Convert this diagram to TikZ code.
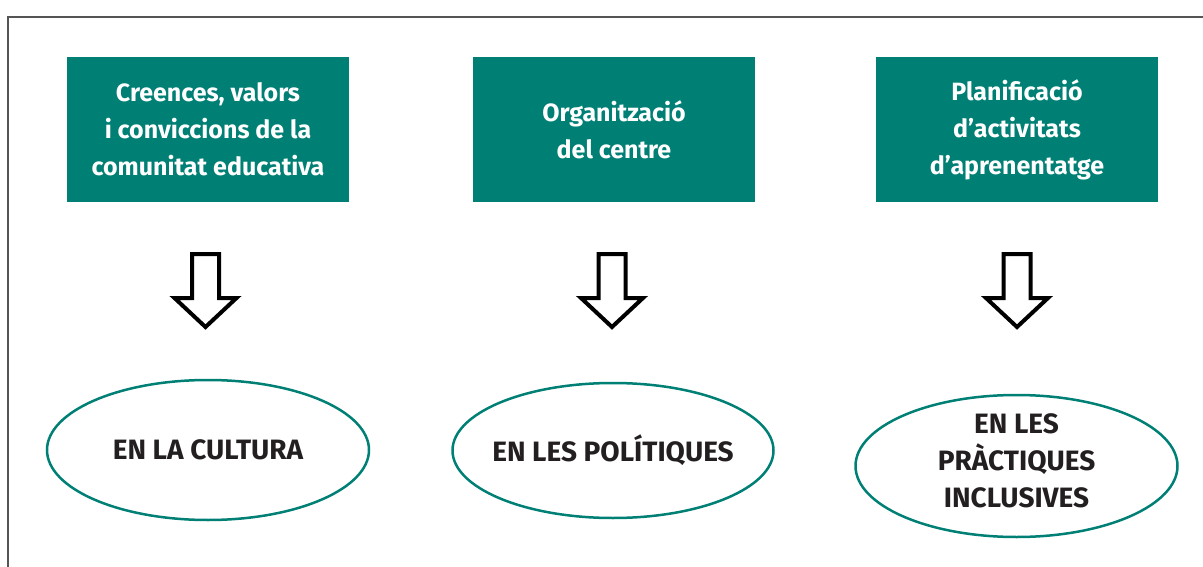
\documentclass[tikz,border=0pt]{standalone}
\usepackage{fontspec}
\setmainfont{Fira Sans}
\usetikzlibrary{shapes.geometric, positioning}

\definecolor{edugreen}{RGB}{0,128,117}
\definecolor{textdark}{RGB}{35,31,32}
\definecolor{framegray}{RGB}{85,85,85}

\tikzset{
  box/.style={fill=edugreen, text=white, minimum width=282pt, minimum height=145pt,
    inner sep=0pt, align=center, font=\fontsize{25}{37}\selectfont\bfseries},
  oval/.style={ellipse, draw=edugreen, line width=2.5pt, inner sep=0pt},
  ovaltext/.style={align=center, text=textdark, inner sep=0pt,
    font=\fontsize{28}{37}\selectfont\bfseries},
  blockarrow/.style={draw=black, fill=white, line width=4pt, line join=miter},
}

\begin{document}
\begin{tikzpicture}[x=1pt, y=-1pt]
\useasboundingbox (0,0) rectangle (1203,567);

% outer frame (cut at right and bottom)
\draw[framegray, line width=1.5pt] (1203,17) -- (8,17) -- (8,567);

% top boxes
\node[box] (cultbox) at (208,129.5) {Creences, valors\\ i conviccions de la\\ comunitat educativa};
\node[box] (polbox) at (614,129.5) {Organització\\ del centre};
\node[box] (pracbox) at (1017,129.5) {Planificació\\ d’activitats\\ d’aprenentatge};

% hollow arrows
\foreach \cx in {205.5,612,1017} {
    \draw[blockarrow] (\cx-13.5,254) -- (\cx+13.5,254) -- (\cx+13.5,298) -- (\cx+31,298)
        -- (\cx,327) -- (\cx-31,298) -- (\cx-13.5,298) -- cycle;
}

% ovals
\node[oval, minimum width=322pt, minimum height=140pt] (cult) at (208,450) {};
\node[ovaltext] (cultlbl) at (cult.center) {EN LA CULTURA};
\node[oval, minimum width=321pt, minimum height=135pt] (pol) at (613,450.5) {};
\node[ovaltext] (pollbl) at (pol.center) {EN LES POLÍTIQUES};
\node[oval, minimum width=322pt, minimum height=142pt] (prac) at (1016.5,466) {};
\node[ovaltext] (praclbl) at (1016.5,461) {EN LES\\ PRÀCTIQUES\\ INCLUSIVES};
\end{tikzpicture}
\end{document}
